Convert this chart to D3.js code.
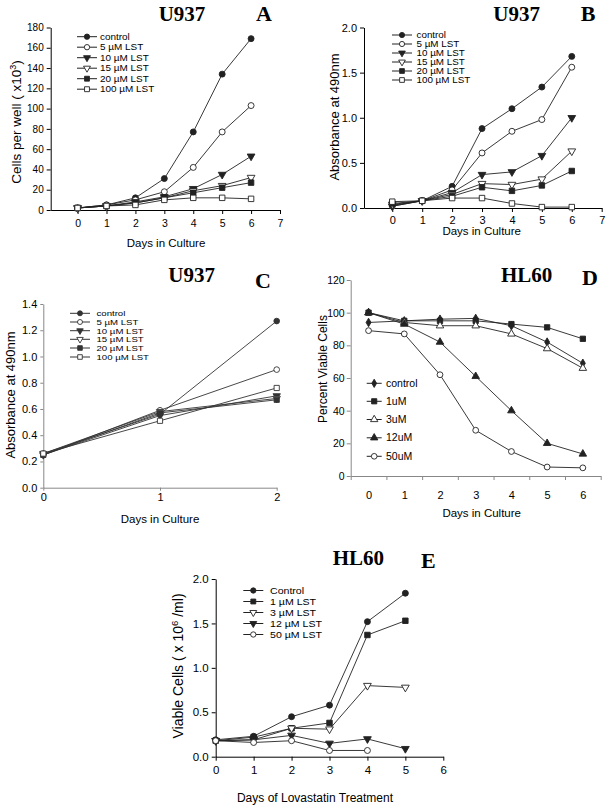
<!DOCTYPE html>
<html><head><meta charset="utf-8">
<script src="https://cdn.jsdelivr.net/npm/d3@7"></script>
<style>
html,body{margin:0;padding:0;background:#fff;}
svg{display:block;}
text{font-family:"Liberation Sans",Arial,sans-serif;fill:#000;}
.ttl{font-family:"Liberation Serif","Times New Roman",serif;font-weight:bold;}
</style></head>
<body>
<script>
// ---------------- DATA ----------------
const daysU937 = [0,1,2,3,4,5,6];
const u937Names = ["control","5 \u00b5M LST","10 \u00b5M LST","15 \u00b5M LST","20 \u00b5M LST","100 \u00b5M LST"];
// Panel A: cells per well (x10^3)
const A_control = [2,5,12,31,77,134,169];
const A_5uM     = [2,5,10,18,42,77,103];
const A_10uM    = [2,4,8,13,21,35,53];
const A_15uM    = [2,4,7,12,19,24,32];
const A_20uM    = [2,4,7,12,17,22,27];
const A_100uM   = [2,4,5,10,12,12,11];
const A_yTicks  = [0,20,40,60,80,100,120,140,160,180];
const AB_xTicks = [0,1,2,3,4,5,6,7];
// Panel B: absorbance at 490nm
const B_control = [0.03,0.08,0.24,0.88,1.10,1.34,1.68];
const B_5uM     = [0.02,0.08,0.20,0.61,0.85,0.98,1.56];
const B_10uM    = [0.02,0.08,0.17,0.37,0.40,0.58,1.00];
const B_15uM    = [0.04,0.08,0.15,0.27,0.26,0.32,0.63];
const B_20uM    = [0.05,0.08,0.13,0.23,0.19,0.25,0.41];
const B_100uM   = [0.07,0.08,0.11,0.11,0.05,0.01,0.01];
const B_yTicks  = [0,0.5,1.0,1.5,2.0];
// Panel C: absorbance at 490nm, days 0-2
const daysC     = [0,1,2];
const C_control = [0.26,0.56,1.27];
const C_5uM     = [0.25,0.59,0.90];
const C_10uM    = [0.25,0.55,0.70];
const C_15uM    = [0.26,0.58,0.68];
const C_20uM    = [0.25,0.57,0.67];
const C_100uM   = [0.26,0.51,0.76];
const C_yTicks  = [0,0.2,0.4,0.6,0.8,1.0,1.2,1.4];
// Panel D: HL60 percent viable cells
const daysD     = [0,1,2,3,4,5,6];
const D_names   = ["control","1uM","3uM","12uM","50uM"];
const D_control = [94,95,96,96.5,92,82,69];
const D_1uM     = [100,95,95,95,93,91,84];
const D_3uM     = [100,94,92,92,87,78,66];
const D_12uM    = [100,93,82,61,40,20,13.5];
const D_50uM    = [89,87,62,28,15,5.5,5];
const D_yTicks  = [0,20,40,60,80,100,120];
// Panel E: HL60 viable cells (x10^6/ml)
const daysE     = [0,1,2,3,4,5];
const E_names   = ["Control","1 \u00b5M LST","3 \u00b5M LST","12 \u00b5M LST","50 \u00b5M LST"];
const E_control = [0.19,0.23,0.45,0.58,1.52,1.84];
const E_1uM     = [0.18,0.22,0.32,0.38,1.37,1.53];
const E_3uM     = [0.18,0.19,0.32,0.31,0.80,0.78];
const E_12uM    = [0.18,0.19,0.24,0.15,0.20,0.09];
const E_50uM    = [0.18,0.16,0.18,0.07,0.07];
const E_xTicks  = [0,1,2,3,4,5,6];
const E_yTicks  = [0,0.5,1.0,1.5,2.0];

// ---------------- DRAWING ----------------
const W = 607, H = 807;
const svg = d3.select("body").append("svg").attr("width", W).attr("height", H);

const u937Markers = [
  {t:"circle",f:true},{t:"circle",f:false},{t:"triDown",f:true},
  {t:"triDown",f:false},{t:"square",f:true},{t:"square",f:false}];

function marker(g, m, x, y, s, col) {
  s = s || 1;
  let type, size, rot = 0;
  if (m.t === "circle") { type = d3.symbolCircle; size = 28*s; }
  else if (m.t === "square") { type = d3.symbolSquare; size = 30*s; }
  else if (m.t === "triDown") { type = d3.symbolTriangle; size = 26*s; rot = 180; }
  else if (m.t === "triUp") { type = d3.symbolTriangle; size = 26*s; }
  else { type = d3.symbolDiamond; size = 22*s; }
  g.append("path")
    .attr("d", d3.symbol().type(type).size(size)())
    .attr("transform", `translate(${x},${y}) rotate(${rot})`)
    .attr("fill", m.f ? (col||"#000") : "#fff")
    .attr("stroke", col||"#000").attr("stroke-width", 0.9);
}

const fmt1 = d3.format(".1f");
const fmtInt = d3.format("d");

function styleAxis(ax, col, fs) {
  ax.selectAll("path.domain").attr("stroke", col).attr("stroke-width", 1);
  ax.selectAll(".tick line").attr("stroke", col).attr("stroke-width", 1);
  ax.selectAll(".tick text").attr("font-size", fs).attr("fill", "#000")
    .attr("font-family", '"Liberation Sans",Arial,sans-serif');
}

function title(txt, x, y, fs) {
  svg.append("text").attr("class","ttl").attr("x",x).attr("y",y)
    .attr("text-anchor","middle").attr("font-size",fs).text(txt);
}
function xLabel(txt, x, y, fs) {
  svg.append("text").attr("x",x).attr("y",y).attr("text-anchor","middle")
    .attr("font-size",fs).text(txt);
}
function yLabel(x, y, fs) {
  return svg.append("text").attr("transform",`translate(${x},${y}) rotate(-90)`)
    .attr("text-anchor","middle").attr("font-size",fs);
}

function drawSeries(g, xs, vals, x, y, m, col, lw, msz) {
  const pts = vals.map((v,i)=>[x(xs[i]), y(v)]);
  g.append("path").attr("d", d3.line()(pts)).attr("fill","none")
    .attr("stroke", col).attr("stroke-width", lw);
  pts.forEach(p => marker(g, m, p[0], p[1], msz, col));
}

function legend(g, names, markers, x0, x1, tx, ys, fs, col, msz, stretch) {
  names.forEach((n,i)=>{
    g.append("line").attr("x1",x0).attr("x2",x1).attr("y1",ys[i]).attr("y2",ys[i])
      .attr("stroke",col).attr("stroke-width",1);
    marker(g, markers[i], (x0+x1)/2, ys[i], msz, col);
    const t = g.append("text").attr("x",tx).attr("y",ys[i]).attr("dy","0.35em")
      .attr("font-size",fs).text(n);
    if (stretch && stretch !== 1) {
      const len = t.node().getComputedTextLength();
      t.attr("textLength", len*stretch).attr("lengthAdjust","spacingAndGlyphs");
    }
  });
}

// ---------- Panel A ----------
(function(){
  const x = d3.scaleLinear().domain([-0.93,7]).range([50.7,280]);
  const y = d3.scaleLinear().domain([0,180]).range([210,27.5]);
  const g = svg.append("g");
  const ay = g.append("g").attr("transform","translate(50.7,0)")
    .call(d3.axisLeft(y).tickValues(A_yTicks).tickFormat(fmtInt).tickSize(4).tickSizeOuter(0).tickPadding(3));
  styleAxis(ay,"#000",10);
  const ax = g.append("g").attr("transform","translate(0,210)")
    .call(d3.axisBottom(x).tickValues(AB_xTicks).tickFormat(fmtInt).tickSize(4).tickSizeOuter(0).tickPadding(6));
  styleAxis(ax,"#000",10.5);
  const data = [A_control,A_5uM,A_10uM,A_15uM,A_20uM,A_100uM];
  data.forEach((d,i)=>drawSeries(g, daysU937, d, x, y, u937Markers[i], "#222", 0.9, 1));
  legend(g, u937Names, u937Markers, 77, 97, 100, [36.7,47.2,57.7,68.2,78.7,89.2], 9.2, "#222", 0.8, 1.08);
  title("U937", 182, 21, 21);
  title("A", 264, 21, 22);
  xLabel("Days in Culture", 166, 247, 11.5);
  const yl = yLabel(21, 122, 13.5);
  yl.append("tspan").text("Cells per well ( x10");
  yl.append("tspan").attr("dy","-5").attr("font-size",9).text("3");
  yl.append("tspan").attr("dy","5").text(")");
})();

// ---------- Panel B ----------
(function(){
  const x = d3.scaleLinear().domain([-0.945,7]).range([364,601.7]);
  const y = d3.scaleLinear().domain([0,2]).range([208,27.5]);
  const g = svg.append("g");
  const ay = g.append("g").attr("transform","translate(364,0)")
    .call(d3.axisLeft(y).tickValues(B_yTicks).tickFormat(fmt1).tickSize(4).tickSizeOuter(0).tickPadding(3));
  styleAxis(ay,"#000",11);
  const ax = g.append("g").attr("transform","translate(0,208)")
    .call(d3.axisBottom(x).tickValues(AB_xTicks).tickFormat(fmtInt).tickSize(4).tickSizeOuter(0).tickPadding(4));
  styleAxis(ax,"#000",11);
  const data = [B_control,B_5uM,B_10uM,B_15uM,B_20uM,B_100uM];
  data.forEach((d,i)=>drawSeries(g, daysU937, d, x, y, u937Markers[i], "#222", 0.9, 1));
  legend(g, u937Names, u937Markers, 392, 412, 416.5, [35,44,53,62,71,80], 8.2, "#222", 0.75, 1.2);
  title("U937", 516.7, 21, 21);
  title("B", 588, 21, 22);
  xLabel("Days in Culture", 481.7, 235, 11.5);
  yLabel(339, 117, 13).text("Absorbance at 490nm");
})();

// ---------- Panel C ----------
(function(){
  const x = d3.scaleLinear().domain([0,2]).range([43.3,276.7]);
  const y = d3.scaleLinear().domain([0,1.4]).range([487.7,304]);
  const g = svg.append("g");
  const ay = g.append("g").attr("transform","translate(43.3,0)")
    .call(d3.axisLeft(y).tickValues(C_yTicks).tickFormat(fmt1).tickSize(3).tickSizeOuter(0).tickPadding(3));
  styleAxis(ay,"#888",11);
  const ax = g.append("g").attr("transform","translate(0,487.7)")
    .call(d3.axisBottom(x).tickValues(daysC).tickFormat(fmtInt).tickSize(3).tickSizeOuter(0).tickPadding(3));
  styleAxis(ax,"#888",11);
  const data = [C_control,C_5uM,C_10uM,C_15uM,C_20uM,C_100uM];
  data.forEach((d,i)=>drawSeries(g, daysC, d, x, y, u937Markers[i], "#333", 0.9, 0.9));
  legend(g, u937Names, u937Markers, 70, 90, 96.5, [313.3,322,330.7,339.3,348,357], 8, "#333", 0.7, 1.2);
  title("U937", 191.7, 281.5, 21);
  title("C", 263, 288, 22);
  xLabel("Days in Culture", 160, 523, 11.5);
  yLabel(14.5, 395, 13).text("Absorbance at 490nm");
})();

// ---------- Panel D ----------
(function(){
  const x = d3.scaleLinear().domain([-0.5,6.5]).range([350.7,600.7]);
  const y = d3.scaleLinear().domain([0,120]).range([476,280]);
  const g = svg.append("g");
  const ay = g.append("g").attr("transform","translate(350.7,0)")
    .call(d3.axisLeft(y).tickValues(D_yTicks).tickFormat(fmtInt).tickSize(4).tickSizeOuter(0).tickPadding(2));
  styleAxis(ay,"#888",10.5);
  const bounds = d3.range(-0.5, 6.6, 1);
  const ax = g.append("g").attr("transform","translate(0,476)")
    .call(d3.axisBottom(x).tickValues(bounds).tickFormat("").tickSize(4).tickSizeOuter(0));
  styleAxis(ax,"#888",11);
  const ax2 = g.append("g").attr("transform","translate(0,476)")
    .call(d3.axisBottom(x).tickValues(daysD).tickFormat(fmtInt).tickSize(0).tickPadding(15));
  ax2.select("path.domain").remove();
  styleAxis(ax2,"#888",11);
  const dMarkers = [{t:"diamond",f:true},{t:"square",f:true},{t:"triUp",f:false},{t:"triUp",f:true},{t:"circle",f:false}];
  const data = [D_control,D_1uM,D_3uM,D_12uM,D_50uM];
  data.forEach((d,i)=>drawSeries(g, daysD, d, x, y, dMarkers[i], "#222", 0.9, 0.95));
  legend(g, D_names, dMarkers, 366.7, 381.7, 386, [383.3,401.3,419.5,437.8,456.3], 10.5, "#222", 0.9, 1);
  title("HL60", 526.7, 281.5, 21);
  title("D", 590, 285, 22);
  xLabel("Days in Culture", 481.7, 517, 11.5);
  yLabel(326.5, 369, 12).text("Percent Viable Cells");
})();

// ---------- Panel E ----------
(function(){
  const x = d3.scaleLinear().domain([0,6]).range([215.7,443.3]);
  const y = d3.scaleLinear().domain([0,2]).range([756.7,579]);
  const g = svg.append("g");
  const ay = g.append("g").attr("transform","translate(215.7,0)")
    .call(d3.axisLeft(y).tickValues(E_yTicks).tickFormat(fmt1).tickSize(4).tickSizeOuter(0).tickPadding(3));
  styleAxis(ay,"#000",11.5);
  const ax = g.append("g").attr("transform","translate(0,756.7)")
    .call(d3.axisBottom(x).tickValues(E_xTicks).tickFormat(fmtInt).tickSize(4).tickSizeOuter(0).tickPadding(5));
  styleAxis(ax,"#000",11.5);
  const eMarkers = [{t:"circle",f:true},{t:"square",f:true},{t:"triDown",f:false},{t:"triDown",f:true},{t:"circle",f:false}];
  const data = [E_control,E_1uM,E_3uM,E_12uM,E_50uM];
  data.forEach((d,i)=>drawSeries(g, daysE.slice(0,d.length), d, x, y, eMarkers[i], "#222", 0.9, 1));
  legend(g, E_names, eMarkers, 243.3, 263.3, 270, [590.5,601.5,612.5,623.5,634.5], 9.8, "#222", 0.8, 1.08);
  title("HL60", 358.3, 565, 21);
  title("E", 428.3, 568, 22);
  xLabel("Days of Lovastatin Treatment", 315, 802, 12);
  const yl = yLabel(183, 666, 14);
  yl.append("tspan").text("Viable Cells ( x 10");
  yl.append("tspan").attr("dy","-5").attr("font-size",9.5).text("6");
  yl.append("tspan").attr("dy","5").text(" /ml)");
})();
</script>
</body></html>
